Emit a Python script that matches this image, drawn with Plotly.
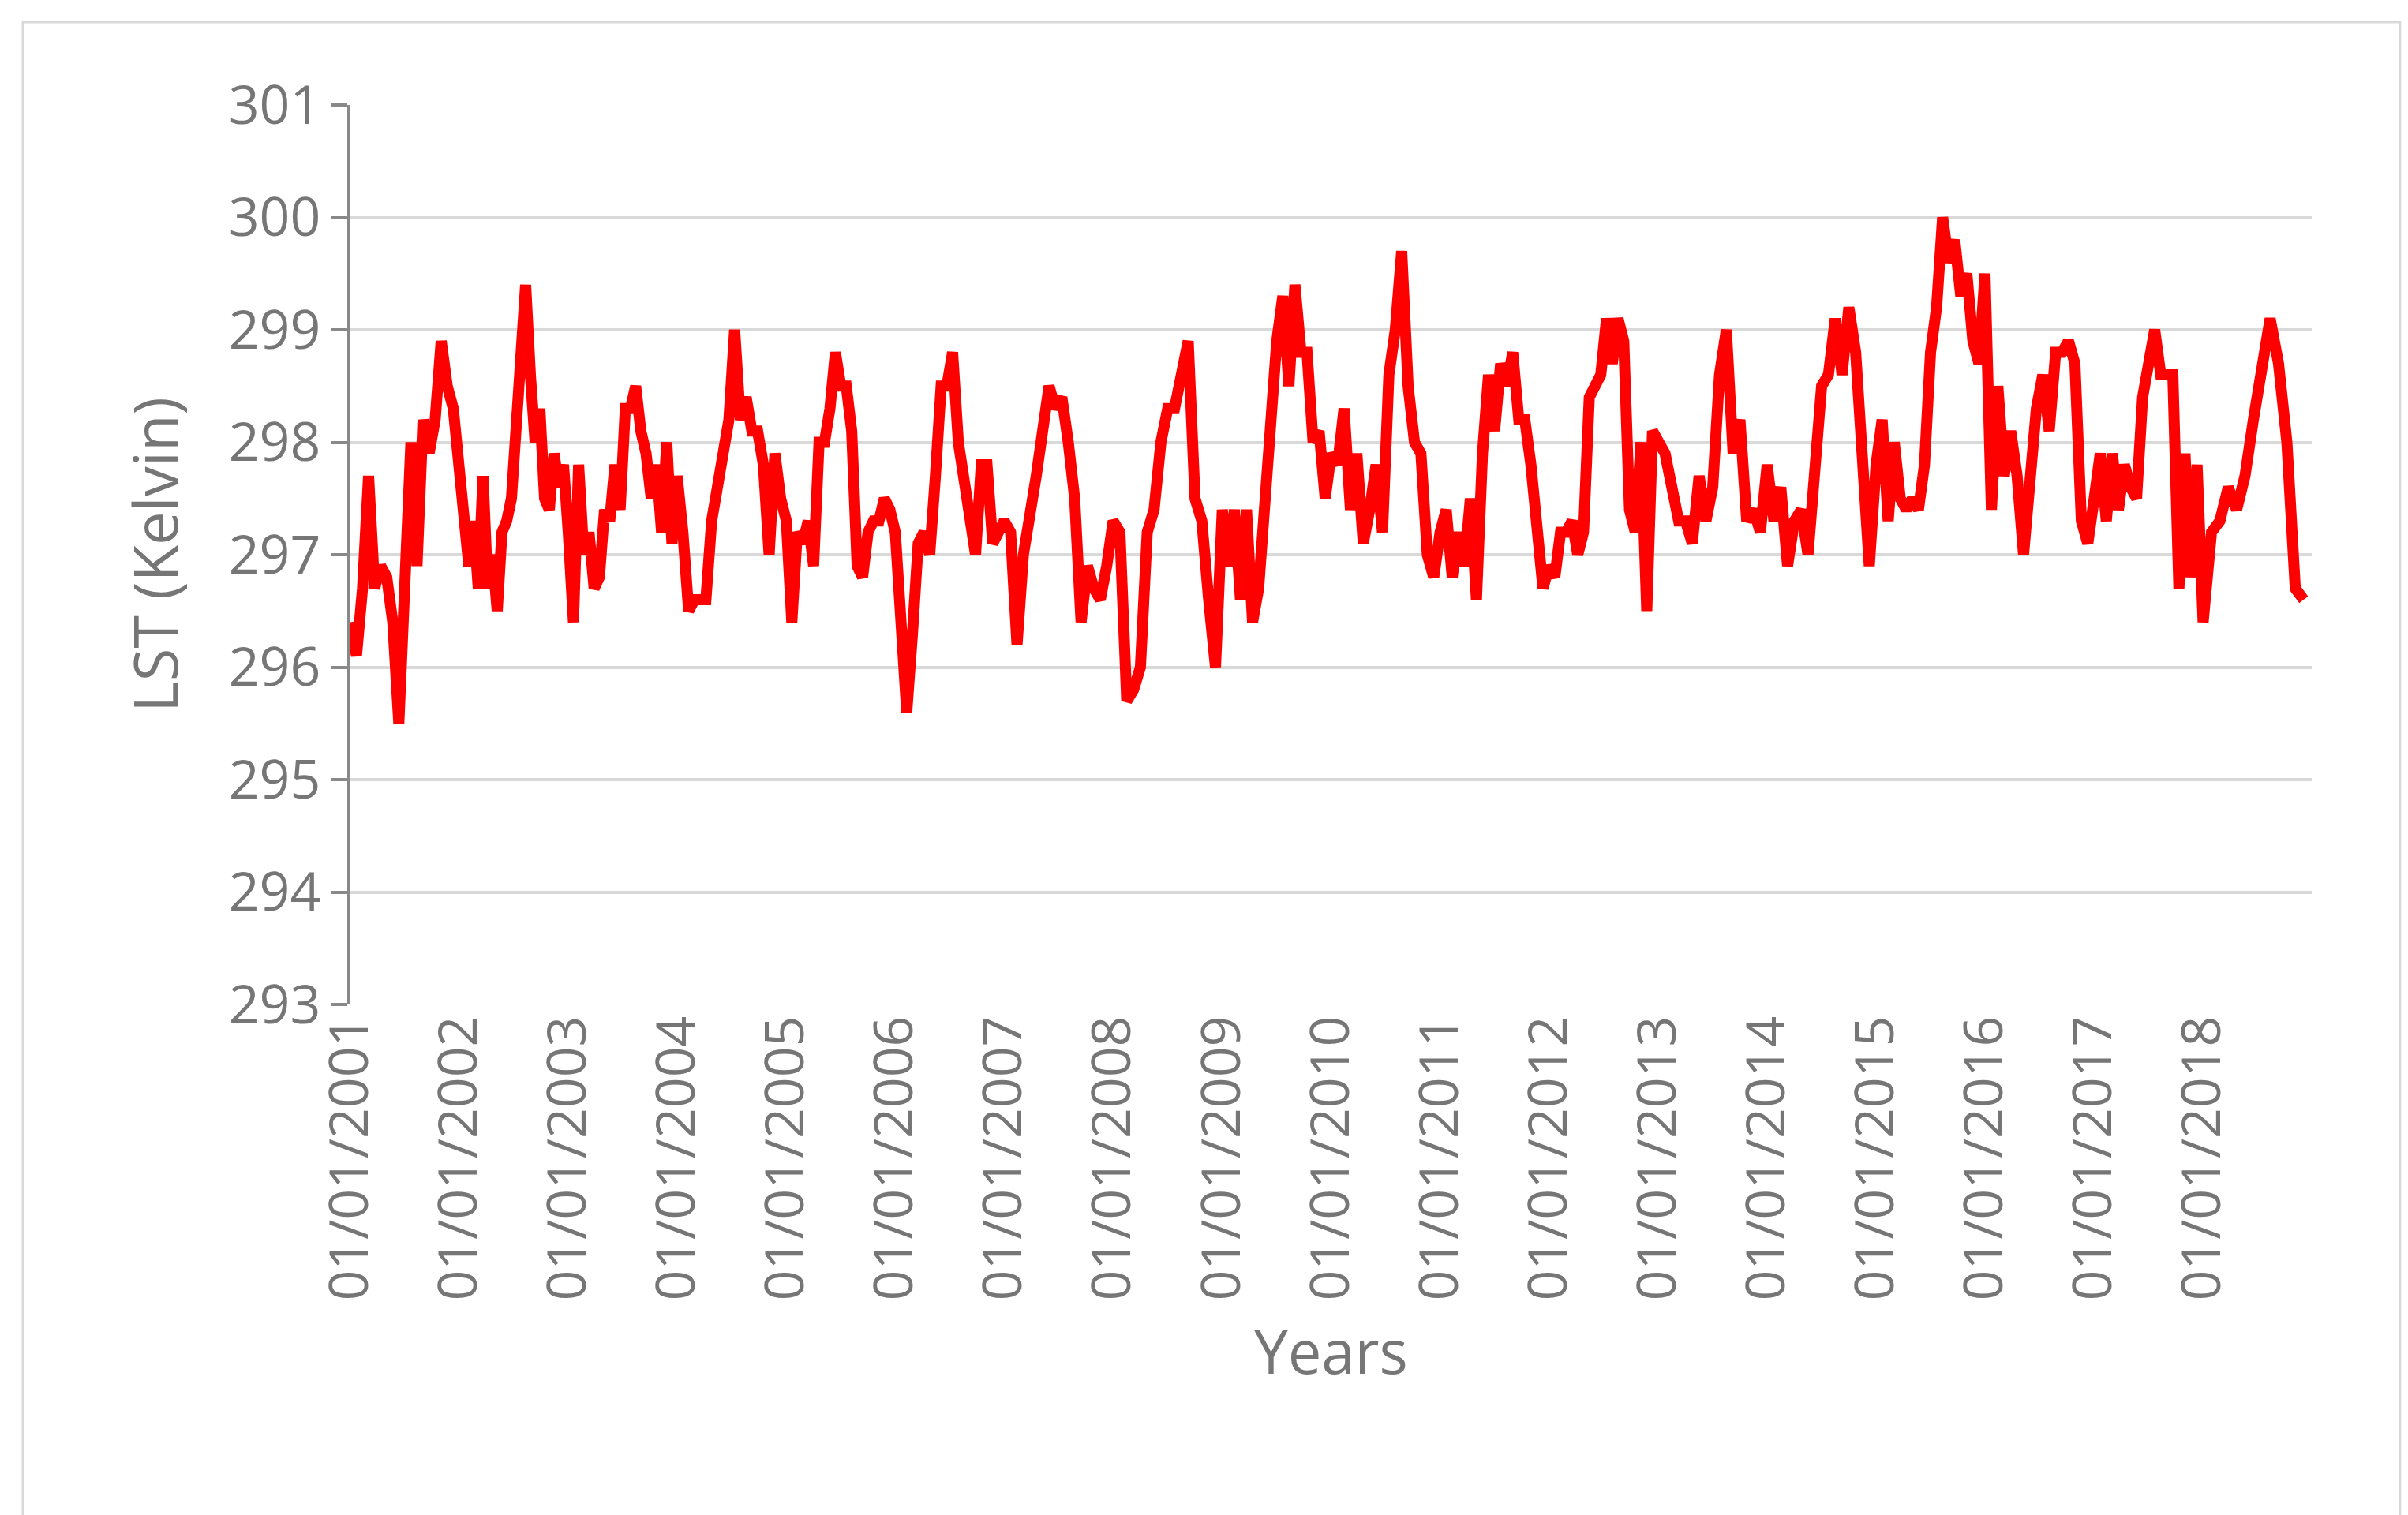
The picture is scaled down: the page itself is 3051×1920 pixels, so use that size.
#!/usr/bin/env python3
"""LST time series 2001-2018, Excel-style line chart."""

import pandas as pd
import plotly.graph_objects as go

# LST values (Kelvin), one list per year
LST_2001 = [296.4, 296.1, 296.7, 297.7, 296.7, 296.9, 296.8, 296.4, 295.5, 296.8, 298.0, 296.9, 298.2, 297.9, 298.2, 298.9, 298.5, 298.3]
LST_2002 = [297.8, 297.3, 296.9, 297.3, 296.7, 297.7, 296.7, 297.0, 296.5, 297.2, 297.3, 297.5, 298.2, 298.7, 299.4, 298.6, 298.0, 298.3, 297.5, 297.4, 297.9, 297.6, 297.8]
LST_2003 = [297.2, 296.4, 297.8, 297.0, 297.2, 296.7, 296.8, 297.4, 297.3, 297.8, 297.4, 298.3, 298.3, 298.5, 298.1, 297.9, 297.5, 297.8, 297.2, 298.0, 297.1]
LST_2004 = [297.7, 297.2, 296.5, 296.6, 296.6, 296.6, 297.3, 297.6, 297.8, 298.2, 299.0, 298.2, 298.4, 298.1, 298.1, 297.8, 297.0, 297.9, 297.5]
LST_2005 = [297.3, 296.4, 297.2, 297.1, 297.3, 296.9, 298.0, 298.0, 298.3, 298.8, 298.5, 298.5, 298.1, 296.9, 296.8, 297.2, 297.3, 297.3, 297.5, 297.4]
LST_2006 = [297.2, 296.4, 295.6, 296.3, 297.1, 297.2, 297.0, 297.7, 298.5, 298.5, 298.8, 298.0, 297.7, 297.3, 297.0, 297.8, 297.8, 297.1, 297.2]
LST_2007 = [297.3, 297.2, 296.2, 297.0, 297.3, 297.7, 298.1, 298.5, 298.3, 298.4, 298.0, 297.5, 296.4, 296.9, 296.7, 296.6, 296.9]
LST_2008 = [297.3, 297.2, 295.7, 295.8, 296.0, 297.2, 297.4, 298.0, 298.3, 298.3, 298.6, 298.9, 297.5, 297.3, 296.6, 296.0]
LST_2009 = [297.4, 296.9, 297.4, 296.6, 297.4, 296.4, 296.7, 297.5, 298.4, 298.9, 299.3, 298.5, 299.4, 298.8, 298.8, 298.0, 298.1, 297.5]
LST_2010 = [297.9, 297.8, 298.3, 297.4, 297.9, 297.1, 297.4, 297.8, 297.2, 298.6, 299.0, 299.7, 298.5, 298.0, 297.9, 297.0, 296.8]
LST_2011 = [297.2, 297.4, 296.8, 297.2, 296.9, 297.5, 296.6, 297.9, 298.6, 298.1, 298.7, 298.5, 298.8, 298.2, 298.2, 297.8, 297.2, 296.7]
LST_2012 = [296.9, 296.8, 297.2, 297.2, 297.3, 297.0, 297.2, 298.4, 298.5, 298.6, 299.1, 298.7, 299.1, 298.9, 297.4, 297.2, 298.0, 296.5, 298.1]
LST_2013 = [298.0, 297.9, 297.6, 297.3, 297.3, 297.1, 297.7, 297.3, 297.6, 298.6, 299.0, 297.9, 298.2, 297.3, 297.4, 297.2]
LST_2014 = [297.8, 297.3, 297.6, 296.9, 297.3, 297.4, 297.0, 297.7, 298.5, 298.6, 299.1, 298.6, 299.2, 298.8, 298.0, 296.9]
LST_2015 = [297.8, 298.2, 297.3, 298.0, 297.5, 297.4, 297.5, 297.4, 297.8, 298.8, 299.2, 300.0, 299.6, 299.8, 299.3, 299.5, 298.9, 298.7]
LST_2016 = [299.5, 297.4, 298.5, 297.7, 298.1, 297.7, 297.0, 297.8, 298.3, 298.6, 298.1, 298.8, 298.8, 298.9, 298.7, 297.3, 297.1]
LST_2017 = [297.5, 297.9, 297.3, 297.9, 297.4, 297.8, 297.6, 297.5, 298.4, 298.7, 299.0, 298.6, 298.6, 298.6, 296.7, 297.9, 296.8, 297.8]
LST_2018 = [296.4, 297.2, 297.3, 297.6, 297.4, 297.7, 298.2, 298.7, 299.1, 298.7, 298.0, 296.7, 296.6]

YEARS = list(range(2001, 2019))
YEARLY = [LST_2001, LST_2002, LST_2003, LST_2004, LST_2005, LST_2006, LST_2007, LST_2008, LST_2009,
          LST_2010, LST_2011, LST_2012, LST_2013, LST_2014, LST_2015, LST_2016, LST_2017, LST_2018]

# spread each year's readings across that year
dates, values = [], []
for year, vals in zip(YEARS, YEARLY):
    start = pd.Timestamp(f"{year}-01-01")
    span = pd.Timestamp(f"{year + 1}-01-01") - start
    for i, v in enumerate(vals):
        dates.append(start + span * (i / len(vals)))
        values.append(v)

GRAY = "#767676"
FONT = "Open Sans"

fig = go.Figure()
fig.add_trace(go.Scatter(x=dates, y=values, mode="lines",
                         line=dict(color="#ff0000", width=14), showlegend=False))

fig.update_layout(
    width=3051, height=1920,
    margin=dict(l=436, r=130, t=125, b=655),
    paper_bgcolor="white", plot_bgcolor="white",
    font=dict(family=FONT, color=GRAY, size=66),
    xaxis=dict(
        range=[pd.Timestamp("2001-01-01"), pd.Timestamp("2018-12-31")],
        tick0="2001-01-01", dtick="M12", tickformat="%d/%m/%Y",
        tickangle=-90, tickfont=dict(size=68, color=GRAY),
        showgrid=False, showline=False, zeroline=False,
        title=dict(text="Years", font=dict(size=76, color=GRAY), standoff=40),
    ),
    yaxis=dict(
        range=[293, 301], dtick=1,
        showgrid=True, gridcolor="#d9d9d9", gridwidth=4,
        showline=True, linecolor="#898989", linewidth=4,
        ticks="outside", ticklen=20, tickwidth=4, tickcolor="#898989",
        tickfont=dict(size=68, color=GRAY), zeroline=False,
        title=dict(text="LST (Kelvin)", font=dict(size=76, color=GRAY), standoff=40),
    ),
)

# light border around the whole chart area
fig.add_shape(type="rect", xref="paper", yref="paper",
              x0=-0.167, x1=1.045, y0=-0.572, y1=1.092,
              line=dict(color="#d9d9d9", width=3), fillcolor="rgba(0,0,0,0)")

fig.write_html("out.html")
